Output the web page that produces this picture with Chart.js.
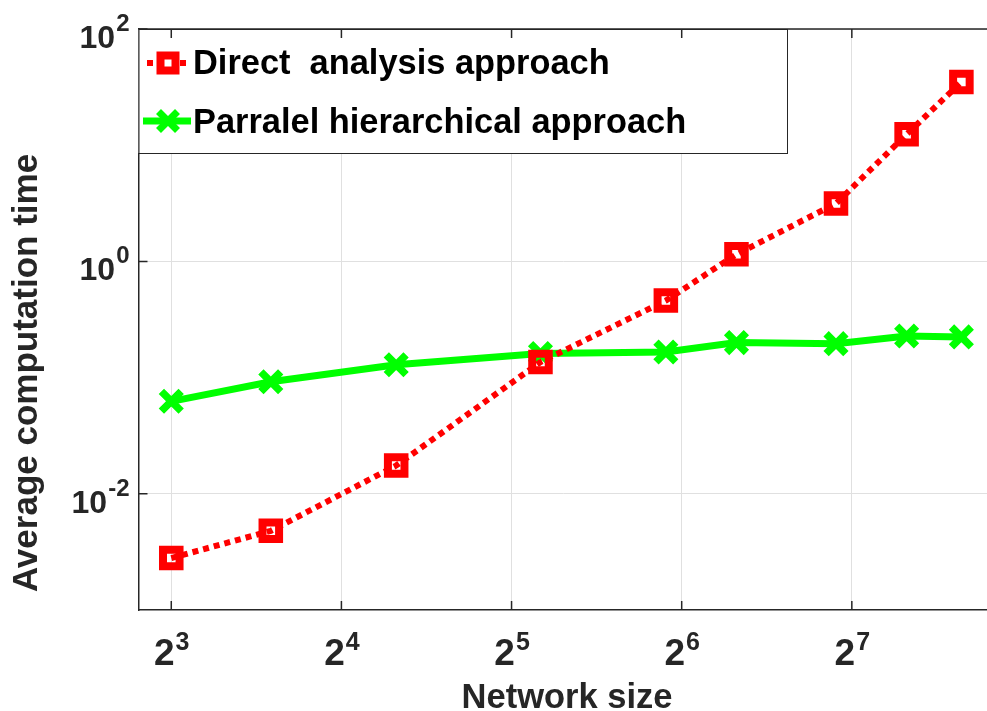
<!DOCTYPE html>
<html>
<head>
<meta charset="utf-8">
<script src="https://cdn.jsdelivr.net/npm/chart.js@4.4.1/dist/chart.umd.min.js"></script>
<style>
  html, body { margin: 0; padding: 0; background: #fff; }
  #chart { display: block; }
</style>
</head>
<body>
<canvas id="chart" width="987" height="711"></canvas>
<script>
// values
const networkSizes = [8, 12, 20, 36, 60, 80, 120, 160, 200];
const directTimes = [0.0028, 0.0048, 0.0175, 0.136, 0.46, 1.15, 3.15, 12.4, 35];
const parallelTimes = [0.0625, 0.092, 0.129, 0.161, 0.166, 0.2, 0.196, 0.228, 0.224];

const xTickValues = [8, 16, 32, 64, 128];
const xTickExponents = ["3", "4", "5", "6", "7"];
const yTickValues = [1e-2, 1, 1e2];
const yTickExponents = ["-2", "0", "2"];

const seriesLabels = ["Direct  analysis approach", "Parralel hierarchical approach"];

const FONT = '"Liberation Sans", Arial, Helvetica, sans-serif';
const AXIS_COLOR = "#262626";
const RED = "#ff0000";
const GREEN = "#00ff00";

function toPoints(xs, ys) {
	return xs.map(function (x, i) {
		return { x: x, y: ys[i] };
	});
}

// draws "base^exp" with the exponent raised
function drawPower(ctx, base, exp, x, y, baseSize, supSize, rise, align) {
	ctx.font = `bold ${baseSize}px ${FONT}`;
	const bw = ctx.measureText(base).width;
	ctx.font = `bold ${supSize}px ${FONT}`;
	const sw = ctx.measureText(exp).width;
	const left = align === "right" ? x - bw - sw : x - (bw + sw) / 2;
	ctx.textAlign = "left";
	ctx.textBaseline = "alphabetic";
	ctx.font = `bold ${baseSize}px ${FONT}`;
	ctx.fillText(base, left, y);
	ctx.font = `bold ${supSize}px ${FONT}`;
	ctx.fillText(exp, left + bw + 1, y - rise);
}

function drawSquare(ctx, x, y, half, width, color) {
	ctx.save();
	ctx.strokeStyle = color;
	ctx.lineWidth = width;
	ctx.setLineDash([]);
	ctx.strokeRect(x - half, y - half, half * 2, half * 2);
	ctx.restore();
}

function drawCross(ctx, x, y, half, width, color) {
	ctx.save();
	ctx.strokeStyle = color;
	ctx.lineWidth = width;
	ctx.setLineDash([]);
	ctx.beginPath();
	ctx.moveTo(x - half, y - half);
	ctx.lineTo(x + half, y + half);
	ctx.moveTo(x - half, y + half);
	ctx.lineTo(x + half, y - half);
	ctx.stroke();
	ctx.restore();
}

const matlabAxes = {
	id: "matlabAxes",
	afterDatasetsDraw(chart) {
		const ctx = chart.ctx;
		const area = chart.chartArea;
		const xs = chart.scales.x;
		const ys = chart.scales.y;

		// legend box over the plot
		const boxRight = 788;
		const boxBottom = 153;
		ctx.save();
		ctx.fillStyle = "#fff";
		ctx.fillRect(area.left, area.top, boxRight - area.left, boxBottom - area.top);
		ctx.strokeStyle = AXIS_COLOR;
		ctx.lineWidth = 1;
		ctx.strokeRect(area.left + 0.5, area.top + 0.5, boxRight - area.left - 1, boxBottom - area.top);

		// red sample
		ctx.strokeStyle = RED;
		ctx.lineWidth = 6;
		ctx.setLineDash([6, 5]);
		ctx.beginPath();
		ctx.moveTo(147, 63);
		ctx.lineTo(191, 63);
		ctx.stroke();
		ctx.setLineDash([]);
		ctx.fillStyle = "#fff";
		ctx.fillRect(160, 57, 14, 12);
		drawSquare(ctx, 168, 63, 7.5, 8, RED);

		// green sample
		ctx.strokeStyle = GREEN;
		ctx.lineWidth = 7;
		ctx.beginPath();
		ctx.moveTo(143, 121);
		ctx.lineTo(191, 121);
		ctx.stroke();
		drawCross(ctx, 168, 121, 9.5, 7, GREEN);

		ctx.fillStyle = "#000";
		ctx.font = `bold 34.4px ${FONT}`;
		ctx.textAlign = "left";
		ctx.textBaseline = "alphabetic";
		ctx.fillText(seriesLabels[0], 193, 74);
		ctx.fillText(seriesLabels[1], 193, 133);

		// top border
		ctx.strokeStyle = AXIS_COLOR;
		ctx.lineWidth = 1.5;
		ctx.beginPath();
		ctx.moveTo(area.left, area.top);
		ctx.lineTo(area.right, area.top);
		ctx.stroke();

		// inward tick marks
		ctx.lineWidth = 1.5;
		ctx.beginPath();
		xTickValues.forEach(function (v) {
			const px = xs.getPixelForValue(v);
			ctx.moveTo(px, area.bottom);
			ctx.lineTo(px, area.bottom - 9);
			ctx.moveTo(px, area.top);
			ctx.lineTo(px, area.top + 9);
		});
		yTickValues.forEach(function (v) {
			const py = ys.getPixelForValue(v);
			ctx.moveTo(area.left, py);
			ctx.lineTo(area.left + 9, py);
		});
		ctx.stroke();

		// tick labels
		ctx.fillStyle = AXIS_COLOR;
		xTickValues.forEach(function (v, i) {
			drawPower(ctx, "2", xTickExponents[i], xs.getPixelForValue(v), 665, 37, 25, 15, "center");
		});
		yTickValues.forEach(function (v, i) {
			drawPower(ctx, "10", yTickExponents[i], area.left - 10, ys.getPixelForValue(v) + 19, 32, 24, 17, "right");
		});

		// axis titles
		ctx.font = `bold 34.5px ${FONT}`;
		ctx.textAlign = "center";
		ctx.fillText("Network size", 567, 708);
		ctx.font = `bold 35px ${FONT}`;
		ctx.translate(37, 373);
		ctx.rotate(-Math.PI / 2);
		ctx.fillText("Average computation time", 0, 0);
		ctx.restore();
	}
};

new Chart(document.getElementById("chart"), {
	type: "line",
	data: {
		datasets: [
			{
				label: seriesLabels[0],
				data: toPoints(networkSizes, directTimes),
				borderColor: RED,
				borderWidth: 6,
				borderDash: [6, 5],
				pointStyle: "rect",
				pointRadius: 11.7,
				pointHoverRadius: 11.7,
				pointBorderWidth: 8,
				pointBorderColor: RED,
				pointBackgroundColor: "rgba(0,0,0,0)",
				tension: 0
			},
			{
				label: seriesLabels[1],
				data: toPoints(networkSizes, parallelTimes),
				borderColor: GREEN,
				borderWidth: 7,
				pointStyle: "crossRot",
				pointRadius: 14,
				pointHoverRadius: 14,
				pointBorderWidth: 7.5,
				pointBorderColor: GREEN,
				pointBackgroundColor: GREEN,
				tension: 0
			}
		]
	},
	options: {
		responsive: false,
		animation: false,
		devicePixelRatio: 1,
		layout: { autoPadding: false, padding: { left: 138.5, top: 29, right: 0, bottom: 101 } },
		plugins: {
			legend: { display: false },
			tooltip: { enabled: false },
			title: { display: false }
		},
		scales: {
			x: {
				type: "logarithmic",
				min: 7,
				max: 222,
				afterBuildTicks(scale) {
					scale.ticks = xTickValues.map(function (v) { return { value: v }; });
				},
				ticks: { display: false },
				grid: { color: "#e0e0e0", lineWidth: 1, drawTicks: false },
				border: { display: true, color: AXIS_COLOR, width: 1.5 }
			},
			y: {
				type: "logarithmic",
				min: 1e-3,
				max: 1e2,
				afterBuildTicks(scale) {
					scale.ticks = yTickValues.map(function (v) { return { value: v }; });
				},
				ticks: { display: false },
				grid: { color: "#e0e0e0", lineWidth: 1, drawTicks: false },
				border: { display: true, color: AXIS_COLOR, width: 1.5 }
			}
		}
	},
	plugins: [matlabAxes]
});
</script>
</body>
</html>
